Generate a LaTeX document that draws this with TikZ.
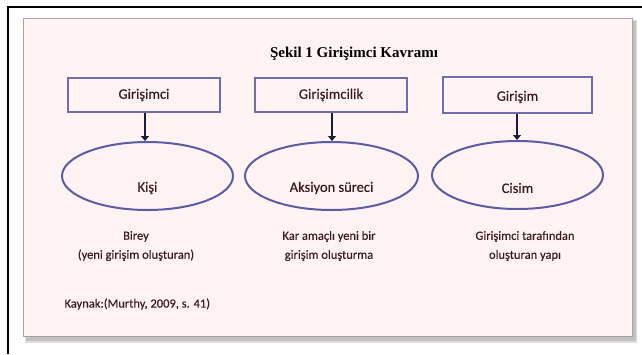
\documentclass[tikz,border=0pt]{standalone}
\usepackage{fontspec}
\setmainfont{Carlito}
\newfontfamily\medfont[FakeBold=0.35]{Carlito}
\newfontfamily\titlefont{Liberation Serif}
\usetikzlibrary{arrows.meta,shapes.geometric}
\definecolor{pinkbg}{HTML}{FFF3F3}
\definecolor{pinkedge}{HTML}{B49CA4}
\definecolor{boxedge}{HTML}{6E6EAE}
\definecolor{elledge}{HTML}{5C5CA6}
\definecolor{txt}{HTML}{3A1A1E}
\definecolor{arr}{HTML}{1C1C38}
\tikzset{
  conceptbox/.style={draw=boxedge, line width=2pt, minimum width=152pt, minimum height=34pt, inner sep=0pt},
  conceptell/.style={draw=elledge, line width=2pt, ellipse, minimum width=171pt, minimum height=68pt, inner sep=0pt},
  boxtext/.style={text=txt, font=\medfont\fontsize{14.5}{16}\selectfont},
  notetext/.style={text=txt, font=\medfont\fontsize{12.5}{19}\selectfont, align=center},
  arrowline/.style={draw=arr, line width=2.8pt, -{Triangle[length=5pt,width=8pt]}}
}
\begin{document}
\begin{tikzpicture}[x=1pt,y=-1pt]
\useasboundingbox (0,0) rectangle (642,354);
\fill[white] (0,0) rectangle (642,354);
% outer frame
\draw[black, line width=2.5pt] (8,354) -- (8,7) -- (642,7);
% shadow
\fill[black!45, opacity=0.5] (26,21) rectangle (636,341);
\fill[black!25, opacity=0.5] (25,20) rectangle (637,343);
% pink panel
\node[draw=pinkedge, fill=pinkbg, line width=1.4pt, minimum width=609pt, minimum height=318pt, inner sep=0pt] (panel) at (328,177.5) {};
% title
\node[font=\titlefont\bfseries\fontsize{15}{17}\selectfont] (title) at (354,54) {Şekil 1 Girişimci Kavramı};
% boxes
\node[conceptbox] (b1) at (144,95) {};
\node[boxtext] (b1t) at (144,95) {Girişimci};
\node[conceptbox] (b2) at (331,95) {};
\node[boxtext] (b2t) at (331,95) {Girişimcilik};
\node[conceptbox, minimum width=149pt, minimum height=36pt] (b3) at (517.5,95) {};
\node[boxtext] (b3t) at (517.5,97) {Girişim};
% ellipses
\node[conceptell] (e1) at (147.5,176) {};
\node[boxtext] (e1t) at (147.5,188) {Kişi};
\node[conceptell, minimum width=173pt] (e2) at (331.5,176) {};
\node[boxtext] (e2t) at (331.5,188) {Aksiyon süreci};
\node[conceptell] (e3) at (517.5,175) {};
\node[boxtext] (e3t) at (517.5,188) {Cisim};
% arrows
\draw[arrowline] (b1.south -| 145,0) -- (e1.north -| 145,0);
\draw[arrowline] (b2.south -| 332,0) -- (e2.north -| 332,0);
\draw[arrowline] (b3.south -| 517,0) -- (e3.north -| 517,0);
% notes
\node[notetext] (n1) at (136,246) {Birey\\(yeni girişim oluşturan)};
\node[notetext] (n2) at (329,246) {Kar amaçlı yeni bir\\girişim oluşturma};
\node[notetext] (n3) at (525,246) {Girişimci tarafından\\oluşturan yapı};
\node[notetext, anchor=west] (src) at (61,304) {Kaynak:(Murthy, 2009, s. 41)};
\end{tikzpicture}
\end{document}
